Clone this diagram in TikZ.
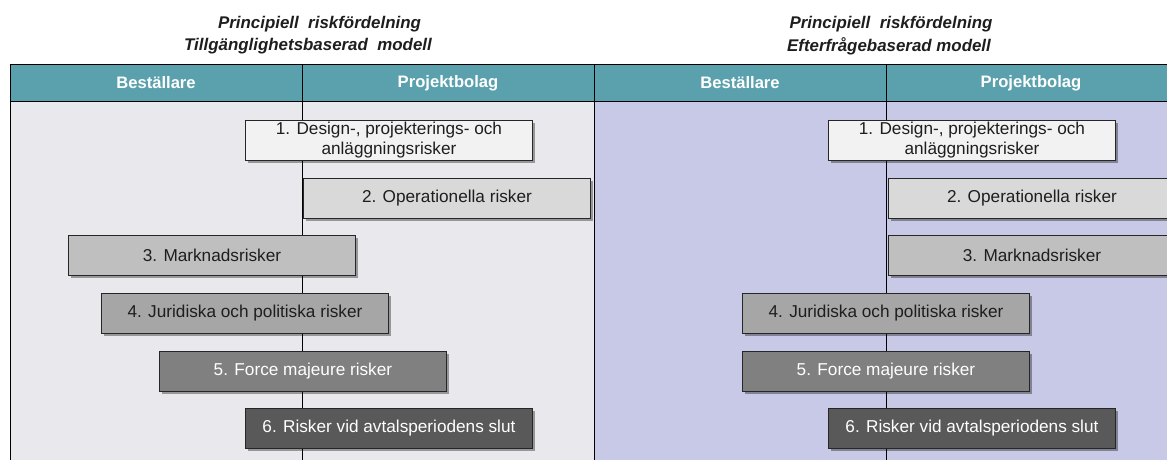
\documentclass[tikz,border=0pt]{standalone}
\usepackage{fontspec}
\setmainfont{Liberation Sans}
\usetikzlibrary{shadows}
\definecolor{hdr}{RGB}{91,161,173}
\definecolor{bodyL}{RGB}{233,232,236}
\definecolor{bodyR}{RGB}{200,201,230}
\definecolor{f1}{RGB}{242,242,242}
\definecolor{f2}{RGB}{217,217,217}
\definecolor{f3}{RGB}{191,191,191}
\definecolor{f4}{RGB}{166,166,166}
\definecolor{f5}{RGB}{128,128,128}
\definecolor{f6}{RGB}{89,89,89}
\definecolor{ink}{RGB}{30,30,30}
\begin{document}
\begin{tikzpicture}[x=1pt,y=-1pt,
  risk/.style={draw=black!85, line width=0.9pt, minimum width=287pt, minimum height=40pt,
    inner sep=0pt, align=center, anchor=north west, text=ink,
    font=\fontsize{17.2}{20}\selectfont,
    drop shadow={shadow xshift=2.5pt, shadow yshift=-2.5pt, fill=black, opacity=0.35}},
  hdrtext/.style={text=white, font=\fontsize{16.6}{19}\selectfont\bfseries},
  title/.style={text=ink, font=\fontsize{16.9}{20}\selectfont\bfseries\itshape},
  rule/.style={draw=black, line width=0.9pt}]
\useasboundingbox (0,0) rectangle (1167,459);
% panels
\fill[bodyL] (10,101) rectangle (594,462);
\fill[bodyR] (594,101) rectangle (1172,462);
\fill[hdr] (10,64) rectangle (1172,101);
\draw[rule] (10,64) -- (1172,64);
\draw[rule] (10,101) -- (1172,101);
\draw[rule] (10,64) -- (10,462);
\draw[rule] (594,64) -- (594,462);
\draw[rule] (302,64) -- (302,462);
\draw[rule] (886,64) -- (886,462);
% titles
\node[title] (tL1) at (319.5,24) {Principiell\ \ riskfördelning};
\node[title] (tL2) at (308,46) {Tillgänglighetsbaserad\ \ modell};
\node[title] (tR1) at (891,24) {Principiell\ \ riskfördelning};
\node[title] (tR2) at (889,46) {Efterfrågebaserad modell};
% headers
\node[hdrtext] (hL1) at (156,83) {Beställare};
\node[hdrtext] (hL2) at (448,83) {Projektbolag};
\node[hdrtext] (hR1) at (740,83) {Beställare};
\node[hdrtext] (hR2) at (1031,83) {Projektbolag};
% left boxes
\node[risk, fill=f1] (L1) at (245,120) {1. Design-, projekterings- och\\anläggningsrisker};
\node[risk, fill=f2] (L2) at (303,178) {2. Operationella risker};
\node[risk, fill=f3] (L3) at (68,235) {3. Marknadsrisker};
\node[risk, fill=f4] (L4) at (101,293) {4. Juridiska och politiska risker};
\node[risk, fill=f5, text=white] (L5) at (159,351) {5. Force majeure risker};
\node[risk, fill=f6, text=white] (L6) at (245,408) {6. Risker vid avtalsperiodens slut};
% right boxes
\node[risk, fill=f1] (R1) at (828,120) {1. Design-, projekterings- och\\anläggningsrisker};
\node[risk, fill=f2] (R2) at (888,178) {2. Operationella risker};
\node[risk, fill=f3] (R3) at (888,235) {3. Marknadsrisker};
\node[risk, fill=f4] (R4) at (742,293) {4. Juridiska och politiska risker};
\node[risk, fill=f5, text=white] (R5) at (742,351) {5. Force majeure risker};
\node[risk, fill=f6, text=white] (R6) at (828,408) {6. Risker vid avtalsperiodens slut};
\end{tikzpicture}
\end{document}
